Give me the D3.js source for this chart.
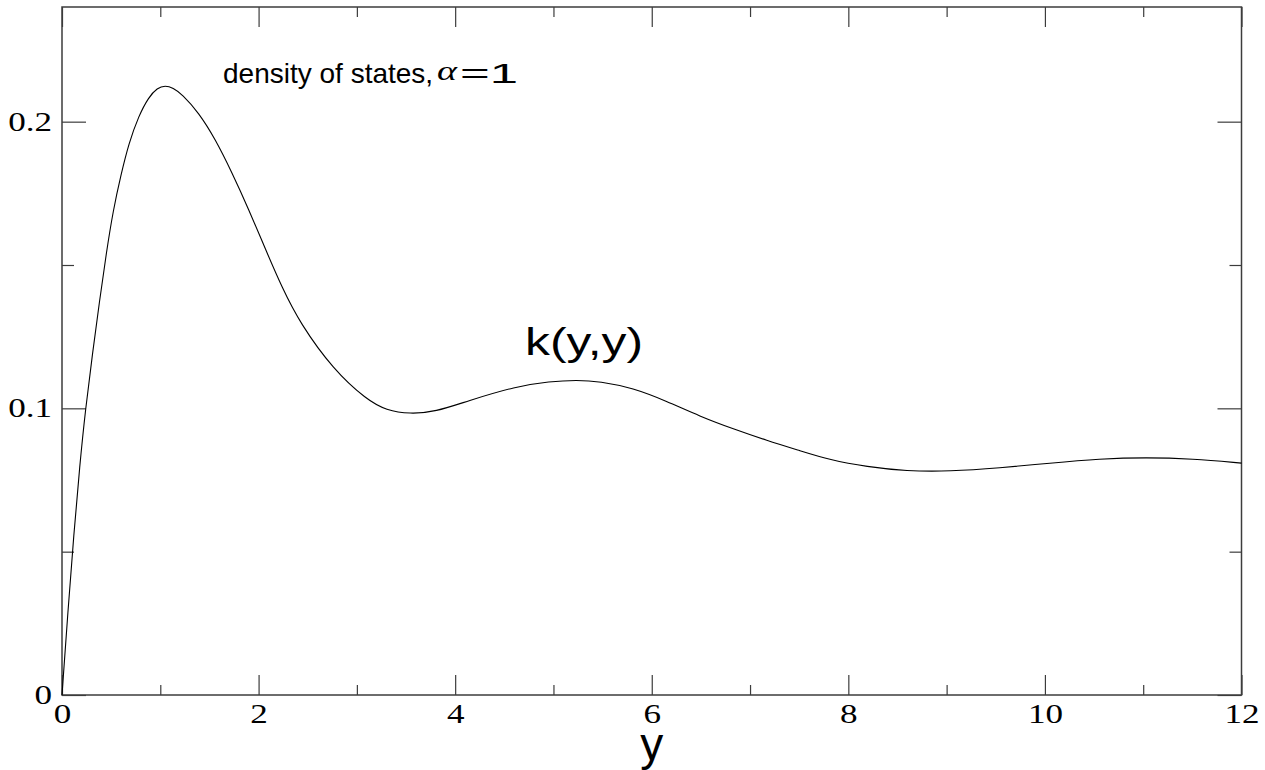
<!DOCTYPE html>
<html>
<head>
<meta charset="utf-8">
<script src="https://cdn.jsdelivr.net/npm/d3@7"></script>
<style>
  body { margin: 0; background: #fff; }
  svg { display: block; }
</style>
</head>
<body>
<div id="chart"></div>
<script>
var yValues = [0, 0.06, 0.12, 0.18, 0.24, 0.31, 0.38, 0.45, 0.52, 0.60, 0.68, 0.78, 0.88, 0.97, 1.05,
  1.13, 1.22, 1.39, 1.56, 1.73, 1.90, 2.07, 2.24, 2.42, 2.76, 3.10, 3.30, 3.54, 3.80, 4.12,
  4.62, 4.96, 5.24, 5.47, 5.81, 6.15, 6.49, 6.83, 7.17, 7.51, 7.81, 8.19, 8.59, 9.03,
  9.54, 10.05, 10.56, 11.03, 11.50, 12.0];
var kValues = [0, 0.029, 0.056, 0.080, 0.1, 0.119, 0.137, 0.154, 0.169, 0.1815, 0.1925, 0.202, 0.2085, 0.2118, 0.2126,
  0.2118, 0.2096, 0.2032, 0.1939, 0.1822, 0.1694, 0.1555, 0.1420, 0.1298, 0.1135, 0.103, 0.0993, 0.098, 0.0988, 0.1025,
  0.1077, 0.1094, 0.1099, 0.1094, 0.1071, 0.1025, 0.0972, 0.0928, 0.0888, 0.0852, 0.0820, 0.0796, 0.0781, 0.0780,
  0.0792, 0.0809, 0.0824, 0.0829, 0.0824, 0.0809];

var xMajorTicks = [0, 2, 4, 6, 8, 10, 12];
var xMinorTicks = [1, 3, 5, 7, 9, 11];
var yMajorTicks = [0, 0.1, 0.2];
var yMinorTicks = [0.05, 0.15];
var yTickLabels = ['0', '0.1', '0.2'];

var xLabel = 'y';
var curveLabel = 'k(y,y)';
var titleText = 'density of states,';

var width = 1265;
var height = 770;
// plot box in pixels (don't call it "top", that clashes with window.top)
var plotLeft = 62, plotRight = 1241.5, plotTop = 7, plotBottom = 695;

var serif = '"Liberation Serif", "Times New Roman", serif';
var sans = '"Liberation Sans", Arial, Helvetica, sans-serif';
var frameColor = '#3c3c3c';

var svg = d3.select('#chart')
  .append('svg')
  .attr('width', width)
  .attr('height', height);

var xScale = d3.scaleLinear().domain([0, 12]).range([plotLeft, plotRight]);
var yScale = d3.scaleLinear().domain([0, 0.24]).range([plotBottom, plotTop]);

function styleAxis(g) {
  g.select('.domain').remove();
  g.selectAll('line').attr('stroke', frameColor).attr('stroke-width', 1.2);
}

// bottom axis: major ticks with labels, pointing inward
svg.append('g')
  .attr('transform', 'translate(0,' + plotBottom + ')')
  .call(d3.axisBottom(xScale).tickValues(xMajorTicks).tickSize(-20).tickPadding(9)
    .tickFormat(d3.format('d')))
  .call(styleAxis)
  .call(function(g) {
    g.selectAll('text')
      .attr('font-family', serif)
      .attr('font-size', 27)
      .attr('fill', '#000')
      .attr('transform', 'scale(1.3,1)');
  });

svg.append('g')
  .attr('transform', 'translate(0,' + plotBottom + ')')
  .call(d3.axisBottom(xScale).tickValues(xMinorTicks).tickSize(-10).tickFormat(''))
  .call(styleAxis);

// top axis, ticks only
svg.append('g')
  .attr('transform', 'translate(0,' + plotTop + ')')
  .call(d3.axisTop(xScale).tickValues(xMajorTicks).tickSize(-20).tickFormat(''))
  .call(styleAxis);

svg.append('g')
  .attr('transform', 'translate(0,' + plotTop + ')')
  .call(d3.axisTop(xScale).tickValues(xMinorTicks).tickSize(-10).tickFormat(''))
  .call(styleAxis);

// left axis with labels
svg.append('g')
  .attr('transform', 'translate(' + plotLeft + ',0)')
  .call(d3.axisLeft(yScale).tickValues(yMajorTicks).tickSize(-24).tickPadding(10)
    .tickFormat(function(d, i) { return yTickLabels[i]; }))
  .call(styleAxis)
  .call(function(g) {
    g.selectAll('text')
      .attr('font-family', serif)
      .attr('font-size', 27)
      .attr('fill', '#000')
      .attr('x', -10 / 1.3)
      .attr('transform', 'scale(1.3,1)');
  });

svg.append('g')
  .attr('transform', 'translate(' + plotLeft + ',0)')
  .call(d3.axisLeft(yScale).tickValues(yMinorTicks).tickSize(-12).tickFormat(''))
  .call(styleAxis);

// right axis, ticks only
svg.append('g')
  .attr('transform', 'translate(' + plotRight + ',0)')
  .call(d3.axisRight(yScale).tickValues(yMajorTicks).tickSize(-24).tickFormat(''))
  .call(styleAxis);

svg.append('g')
  .attr('transform', 'translate(' + plotRight + ',0)')
  .call(d3.axisRight(yScale).tickValues(yMinorTicks).tickSize(-12).tickFormat(''))
  .call(styleAxis);

// frame
svg.append('rect')
  .attr('x', plotLeft)
  .attr('y', plotTop)
  .attr('width', plotRight - plotLeft)
  .attr('height', plotBottom - plotTop)
  .attr('fill', 'none')
  .attr('stroke', frameColor)
  .attr('stroke-width', 1.5);

// the curve (basis spline smooths out reading errors)
var points = yValues.map(function(v, i) { return [v, kValues[i]]; });

var line = d3.line()
  .x(function(d) { return xScale(d[0]); })
  .y(function(d) { return yScale(d[1]); })
  .curve(d3.curveBasis);

svg.append('path')
  .datum(points)
  .attr('d', line)
  .attr('fill', 'none')
  .attr('stroke', '#000')
  .attr('stroke-width', 1.1);

// x axis title
svg.append('text')
  .attr('x', (plotLeft + plotRight) / 2)
  .attr('y', 760)
  .attr('text-anchor', 'middle')
  .attr('font-family', sans)
  .attr('font-size', 46)
  .text(xLabel);

// curve label
svg.append('text')
  .attr('x', 525)
  .attr('y', 355)
  .attr('font-family', sans)
  .attr('font-size', 38)
  .attr('textLength', 118)
  .attr('lengthAdjust', 'spacingAndGlyphs')
  .text(curveLabel);

// title with alpha
svg.append('text')
  .attr('x', 223)
  .attr('y', 83)
  .attr('font-family', sans)
  .attr('font-size', 28)
  .text(titleText);

svg.append('text')
  .attr('x', 437)
  .attr('y', 80)
  .attr('font-family', serif)
  .attr('font-style', 'italic')
  .attr('font-size', 28)
  .attr('textLength', 20)
  .attr('lengthAdjust', 'spacingAndGlyphs')
  .text('\u03b1');

svg.append('text')
  .attr('x', 460)
  .attr('y', 83)
  .attr('font-family', sans)
  .attr('font-size', 28)
  .attr('textLength', 58)
  .attr('lengthAdjust', 'spacingAndGlyphs')
  .text('=1');
</script>
</body>
</html>
